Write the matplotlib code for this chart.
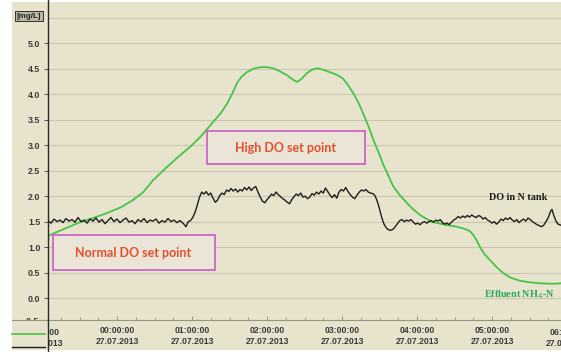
import numpy as np
import matplotlib
matplotlib.use("Agg")
import matplotlib.pyplot as plt
from matplotlib.patches import Rectangle
from matplotlib.lines import Line2D
from matplotlib.transforms import Bbox

# time in hours after 00:00 on 27.07.2013
do_t = [-0.92, -0.88, -0.84, -0.80, -0.76, -0.72, -0.68, -0.64, -0.60, -0.56,
        -0.52, -0.48, -0.44, -0.40, -0.36, -0.32, -0.28, -0.24, -0.20, -0.16,
        -0.12, -0.08, -0.04, 0.00, 0.04, 0.08, 0.12, 0.16, 0.20, 0.24,
        0.28, 0.32, 0.36, 0.40, 0.44, 0.48, 0.52, 0.56, 0.60, 0.64,
        0.68, 0.72, 0.76, 0.80, 0.84, 0.88, 0.92, 0.95, 0.98, 1.01,
        1.04, 1.07, 1.10, 1.13, 1.16, 1.19, 1.22, 1.25, 1.28, 1.31,
        1.34, 1.37, 1.40, 1.43, 1.46, 1.49, 1.52, 1.55, 1.58, 1.61,
        1.64, 1.67, 1.70, 1.73, 1.76, 1.79, 1.82, 1.85, 1.88, 1.91,
        1.94, 1.97, 2.00, 2.03, 2.06, 2.09, 2.12, 2.15, 2.18, 2.21,
        2.24, 2.27, 2.30, 2.33, 2.36, 2.39, 2.42, 2.45, 2.48, 2.51,
        2.54, 2.57, 2.60, 2.63, 2.66, 2.69, 2.72, 2.75, 2.78, 2.81,
        2.84, 2.87, 2.90, 2.93, 2.96, 2.99, 3.02, 3.05, 3.08, 3.11,
        3.14, 3.17, 3.20, 3.23, 3.26, 3.29, 3.32, 3.35, 3.38, 3.41,
        3.44, 3.47, 3.50, 3.53, 3.56, 3.59, 3.62, 3.65, 3.68, 3.71,
        3.74, 3.77, 3.80, 3.83, 3.86, 3.89, 3.92, 3.95, 3.98, 4.01,
        4.04, 4.07, 4.10, 4.13, 4.16, 4.19, 4.22, 4.25, 4.28, 4.31,
        4.34, 4.37, 4.40, 4.43, 4.46, 4.49, 4.52, 4.55, 4.58, 4.61,
        4.64, 4.67, 4.70, 4.73, 4.76, 4.79, 4.82, 4.85, 4.88, 4.91,
        4.94, 4.97, 5.00, 5.03, 5.06, 5.09, 5.12, 5.15, 5.18, 5.21,
        5.24, 5.27, 5.30, 5.33, 5.36, 5.39, 5.42, 5.45, 5.48, 5.51,
        5.54, 5.57, 5.60, 5.63, 5.66, 5.69, 5.72, 5.75, 5.78, 5.80,
        5.82, 5.85, 5.88, 5.92]
do_v = [1.52, 1.47, 1.55, 1.50, 1.53, 1.48, 1.56, 1.51, 1.54, 1.49,
        1.58, 1.50, 1.53, 1.47, 1.55, 1.51, 1.57, 1.49, 1.54, 1.46,
        1.52, 1.58, 1.50, 1.55, 1.48, 1.53, 1.57, 1.49, 1.52, 1.46,
        1.54, 1.50, 1.56, 1.48, 1.53, 1.51, 1.55, 1.47, 1.52, 1.49,
        1.56, 1.50, 1.53, 1.48, 1.52, 1.47, 1.40, 1.50, 1.52, 1.58,
        1.68, 1.82, 1.98, 2.08, 2.04, 2.09, 2.02, 2.06, 1.96, 1.88,
        1.92, 2.01, 2.06, 2.03, 2.12, 2.09, 2.15, 2.10, 2.14, 2.08,
        2.13, 2.10, 2.17, 2.12, 2.18, 2.11, 2.16, 2.19, 2.08, 1.98,
        1.90, 1.87, 1.93, 1.98, 2.04, 2.01, 2.08, 2.03, 1.99, 1.95,
        1.92, 1.88, 1.85, 1.93, 1.99, 2.04, 2.01, 2.06, 1.98, 2.00,
        1.95, 1.98, 2.05, 2.02, 2.08, 2.04, 2.10, 2.06, 2.16, 2.09,
        2.02, 1.97, 2.03, 1.96, 2.08, 2.13, 2.10, 2.17, 2.09, 2.03,
        1.98, 1.95, 2.02, 2.08, 2.12, 2.10, 2.13, 2.08, 2.06, 2.05,
        2.01, 1.90, 1.75, 1.58, 1.45, 1.38, 1.34, 1.33, 1.35, 1.40,
        1.46, 1.52, 1.54, 1.50, 1.53, 1.51, 1.54, 1.49, 1.45, 1.47,
        1.44, 1.48, 1.50, 1.47, 1.50, 1.52, 1.49, 1.53, 1.51, 1.54,
        1.48, 1.45, 1.47, 1.44, 1.49, 1.53, 1.56, 1.60, 1.57, 1.61,
        1.58, 1.62, 1.59, 1.63, 1.60, 1.58, 1.62, 1.60, 1.55, 1.58,
        1.53, 1.51, 1.47, 1.50, 1.45, 1.49, 1.55, 1.52, 1.57, 1.54,
        1.58, 1.53, 1.50, 1.54, 1.48, 1.52, 1.55, 1.51, 1.57, 1.54,
        1.50, 1.47, 1.44, 1.42, 1.40, 1.43, 1.50, 1.58, 1.70, 1.74,
        1.64, 1.52, 1.45, 1.43]

nh4_t = [-0.92, -0.89, -0.70, -0.49, -0.30, -0.13, 0.05, 0.21, 0.35, 0.48,
         0.65, 0.84, 1.00, 1.11, 1.28, 1.38, 1.47, 1.54, 1.60, 1.66,
         1.73, 1.82, 1.91, 2.00, 2.08, 2.17, 2.27, 2.34, 2.40, 2.46,
         2.53, 2.60, 2.67, 2.75, 2.84, 2.93, 3.01, 3.08, 3.15, 3.22,
         3.28, 3.35, 3.42, 3.49, 3.55, 3.62, 3.68, 3.77, 3.87, 3.95,
         4.04, 4.13, 4.21, 4.31, 4.40, 4.50, 4.61, 4.70, 4.75, 4.80,
         4.84, 4.90, 4.97, 5.06, 5.15, 5.25, 5.37, 5.50, 5.64, 5.80, 5.92]
nh4_v = [1.22, 1.24, 1.36, 1.49, 1.58, 1.67, 1.78, 1.92, 2.08, 2.31,
         2.55, 2.80, 3.00, 3.16, 3.45, 3.62, 3.82, 4.02, 4.22, 4.34,
         4.43, 4.50, 4.53, 4.53, 4.51, 4.45, 4.37, 4.29, 4.24, 4.30,
         4.41, 4.48, 4.51, 4.48, 4.43, 4.38, 4.31, 4.18, 4.02, 3.83,
         3.63, 3.38, 3.10, 2.85, 2.62, 2.40, 2.20, 2.02, 1.86, 1.74,
         1.63, 1.55, 1.49, 1.46, 1.43, 1.41, 1.37, 1.32, 1.24, 1.12,
         1.00, 0.86, 0.75, 0.61, 0.49, 0.40, 0.34, 0.31, 0.29, 0.28, 0.29]

hour_ticks = [0, 1, 2, 3, 4, 5]
hour_labels = ["00:00:00\n27.07.2013", "01:00:00\n27.07.2013", "02:00:00\n27.07.2013",
               "03:00:00\n27.07.2013", "04:00:00\n27.07.2013", "05:00:00\n27.07.2013"]
cut_ticks = [-1, 6]
cut_labels = ["23:00:00\n26.07.2013", "06:00:00\n27.07.2013"]
y_ticks = [0.0, 0.5, 1.0, 1.5, 2.0, 2.5, 3.0, 3.5, 4.0, 4.5, 5.0]

W, H = 561, 352
bg = "#e7e3cd"
grid_c = "#cbc6b0"
lab_c = "#3a3a3a"

fig = plt.figure(figsize=(W / 100, H / 100), dpi=100)
fig.patch.set_facecolor("white")
fig.add_artist(Rectangle((12 / W, 2 / H), (W - 12) / W, (H - 4) / H,
                         transform=fig.transFigure, facecolor=bg, edgecolor="none", zorder=0))

ax = fig.add_axes([48 / W, (H - 320) / H, (W - 48) / W, (320 - 6) / H])
ax.set_facecolor("none")
ax.set_xlim(-0.92, 5.92)
ax.set_ylim(-0.43, 5.73)

for yv in [0.0, 0.5, 1.0, 1.5, 2.0, 2.5, 3.0, 3.5, 4.0, 4.5, 5.0, 5.5]:
    ax.axhline(yv, color=grid_c, lw=0.8, zorder=1)

ax.plot(nh4_t, nh4_v, color="#45c545", lw=1.3, zorder=3)
ax.plot(do_t, do_v, color="#1e1e1e", lw=1.0, zorder=4)

for s in ["top", "right"]:
    ax.spines[s].set_visible(False)
ax.spines["left"].set_visible(False)
ax.spines["bottom"].set_color("#9a9684")
ax.spines["bottom"].set_linewidth(0.8)

ax.set_yticks(y_ticks)
ax.set_yticklabels(["%.1f" % v for v in y_ticks])
ax.set_xticks(hour_ticks)
ax.set_xticklabels(hour_labels)
ax.set_xticks(np.arange(-0.75, 5.92, 0.25), minor=True)
ax.tick_params(axis="y", direction="out", length=3, width=0.7, color="#555555",
               labelsize=6.4, labelcolor=lab_c, pad=2.5)
ax.tick_params(axis="x", direction="in", length=3, width=0.7, color="#9a9684",
               labelsize=6.2, labelcolor=lab_c, pad=4)
ax.tick_params(axis="x", which="minor", direction="in", length=2, width=0.6, color="#9a9684")
for lab in ax.get_xticklabels() + ax.get_yticklabels():
    lab.set_fontweight("bold")
    lab.set_fontfamily("Liberation Sans")
for lab in ax.get_xticklabels():
    lab.set_linespacing(1.35)

# labels cut off at the plot edges
clip = Bbox.from_extents(48, 0, W, H)
for t, s in zip(cut_ticks, cut_labels):
    tx = ax.text(t, -0.025, s, transform=ax.get_xaxis_transform(), ha="center", va="top",
                 fontsize=6.2, fontweight="bold", family="Liberation Sans", color=lab_c,
                 linespacing=1.35, clip_on=True)
    tx.set_clip_box(clip)
tm = ax.text(-0.018, -0.45, "-0.5", transform=ax.get_yaxis_transform(), ha="right", va="center",
             fontsize=6.4, fontweight="bold", family="Liberation Sans", color=lab_c, clip_on=True)
tm.set_clip_box(Bbox.from_extents(0, H - 320, W, H))

# frame lines around the plot
fig.add_artist(Line2D([48 / W, 48 / W], [0, 1], color="#2a2a2a", lw=1.0, zorder=5))
fig.add_artist(Line2D([12 / W, 48 / W], [(H - 320) / H] * 2, color="#9a9684", lw=0.8))
fig.add_artist(Line2D([12 / W, 45 / W], [(H - 334) / H] * 2, color="#45c545", lw=1.2))
fig.add_artist(Line2D([12 / W, 45 / W], [(H - 347) / H] * 2, color="#1e1e1e", lw=1.0))

fig.text(29 / W, 1 - 16 / H, "[mg/L]", ha="center", va="center", fontsize=5.8,
         fontweight="bold", family="Liberation Sans", color="#222222",
         bbox=dict(boxstyle="square,pad=0.2", facecolor="#bdb8a6", edgecolor="#333333", lw=0.7))

# set point boxes
box_c = "#c85cc8"
ax.add_patch(Rectangle((-0.853, 0.55), 2.16, 0.685, facecolor="#ebe5d8", edgecolor=box_c,
                       lw=1.2, zorder=5))
ax.text(0.22, 0.89, "Normal DO set point", ha="center", va="center", fontsize=9,
        fontweight="bold", family="Lato", color="#e2502e", zorder=6)
ax.add_patch(Rectangle((1.2, 2.63), 2.107, 0.64, facecolor="#ebe5d8", edgecolor=box_c,
                       lw=1.2, zorder=5))
ax.text(2.25, 2.95, "High DO set point", ha="center", va="center", fontsize=9,
        fontweight="bold", family="Lato", color="#e2502e", zorder=6)

ax.text(5.35, 1.98, "DO in N tank", ha="center", va="center", fontsize=7.3,
        fontweight="bold", family="Liberation Serif", color="#1a1a1a", zorder=6)
ax.text(5.37, 0.06, "Effluent NH$_4$-N", ha="center", va="center", fontsize=7.3,
        fontweight="bold", family="Liberation Serif", color="#2aa85a", zorder=6)

fig.savefig("out.png", dpi=100)
